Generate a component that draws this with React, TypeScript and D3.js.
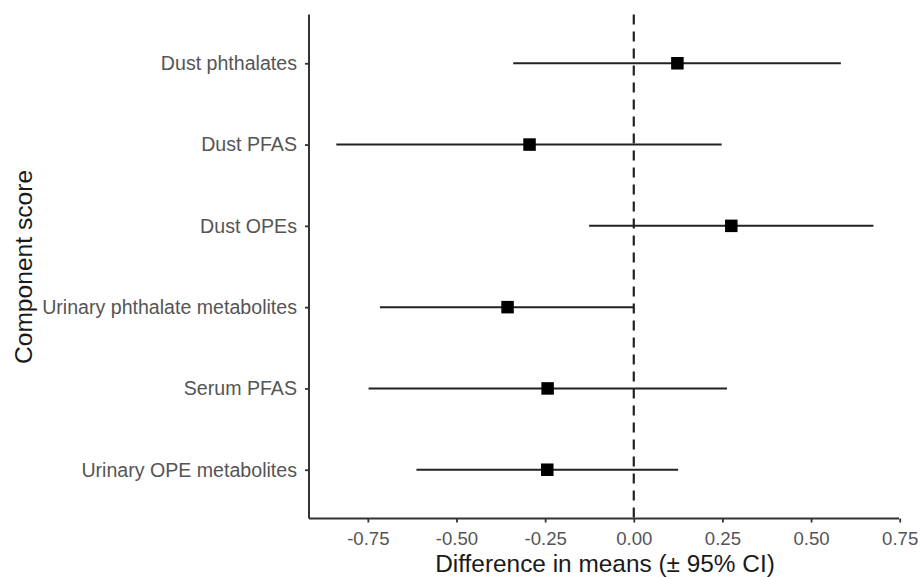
import { useEffect, useRef } from 'react';
import * as d3 from 'd3';

// component scores, top to bottom
const categories = [
  'Dust phthalates',
  'Dust PFAS',
  'Dust OPEs',
  'Urinary phthalate metabolites',
  'Serum PFAS',
  'Urinary OPE metabolites',
];
const estimates = [0.123, -0.294, 0.275, -0.356, -0.243, -0.244];
const lowerCI = [-0.34, -0.839, -0.126, -0.716, -0.748, -0.613];
const upperCI = [0.584, 0.248, 0.676, 0.0, 0.263, 0.125];
const xTicks = [-0.75, -0.5, -0.25, 0, 0.25, 0.5, 0.75];

const W = 921;
const H = 577;
const FONT = '"Liberation Sans", Arial, Helvetica, sans-serif';

const App = () => {
  const svgRef = useRef<SVGSVGElement>(null);

  useEffect(() => {
    document.body.style.margin = '0';
    const svg = d3.select(svgRef.current);
    svg.selectAll('*').remove();

    const left = 309;
    const right = 899;
    const top = 14.5;
    const bottom = 518.5;

    const x = d3.scaleLinear().domain([-0.916, 0.748]).range([left, right]);
    const y = d3.scalePoint<string>().domain(categories).range([top, bottom]).padding(0.6);

    const data = categories.map((c, i) => ({
      cat: c,
      est: estimates[i],
      lo: lowerCI[i],
      hi: upperCI[i],
    }));

    // reference line at zero
    svg
      .append('line')
      .attr('x1', x(0))
      .attr('x2', x(0))
      .attr('y1', top)
      .attr('y2', bottom)
      .attr('stroke', '#222')
      .attr('stroke-width', 2.2)
      .attr('stroke-dasharray', '10,7');

    // error bars
    svg
      .selectAll('line.ci')
      .data(data)
      .join('line')
      .attr('class', 'ci')
      .attr('x1', (d) => x(d.lo))
      .attr('x2', (d) => x(d.hi))
      .attr('y1', (d) => y(d.cat)!)
      .attr('y2', (d) => y(d.cat)!)
      .attr('stroke', '#222')
      .attr('stroke-width', 2);

    const s = 12.5;
    svg
      .selectAll('rect.pt')
      .data(data)
      .join('rect')
      .attr('class', 'pt')
      .attr('x', (d) => x(d.est) - s / 2)
      .attr('y', (d) => y(d.cat)! - s / 2)
      .attr('width', s)
      .attr('height', s)
      .attr('fill', '#000');

    // axes
    const fmt = d3.format('.2f');
    const xAxis = svg
      .append('g')
      .attr('transform', `translate(0,${bottom})`)
      .call(
        d3
          .axisBottom(x)
          .tickValues(xTicks)
          .tickFormat((d) => fmt(d as number).replace('\u2212', '-'))
          .tickSize(4)
          .tickSizeOuter(0)
          .tickPadding(9)
      );
    xAxis.select('.domain').attr('d', `M${left},0H${right}`);

    const yAxis = svg
      .append('g')
      .attr('transform', `translate(${left},0)`)
      .call(d3.axisLeft(y).tickSize(4).tickSizeOuter(0).tickPadding(8));
    yAxis.select('.domain').attr('d', `M0,${top}V${bottom}`);

    [xAxis, yAxis].forEach((g) => {
      g.select('.domain').attr('stroke', '#333').attr('stroke-width', 2);
      g.selectAll('.tick line').attr('stroke', '#333').attr('stroke-width', 1.8);
      g.selectAll('.tick text')
        .attr('fill', '#555')
        .style('font-family', FONT);
    });
    xAxis.selectAll('.tick text').style('font-size', '18.6px');
    yAxis.selectAll('.tick text').style('font-size', '19.6px');

    // titles
    svg
      .append('text')
      .attr('x', 605)
      .attr('y', 572)
      .attr('text-anchor', 'middle')
      .attr('fill', '#1a1a1a')
      .style('font-family', FONT)
      .style('font-size', '24.4px')
      .text('Difference in means (± 95% CI)');

    svg
      .append('text')
      .attr('transform', `translate(32,267) rotate(-90)`)
      .attr('text-anchor', 'middle')
      .attr('fill', '#1a1a1a')
      .style('font-family', FONT)
      .style('font-size', '24.6px')
      .text('Component score');
  }, []);

  return <svg ref={svgRef} width={W} height={H} style={{ display: 'block', background: '#fff' }} />;
};

export default App;
